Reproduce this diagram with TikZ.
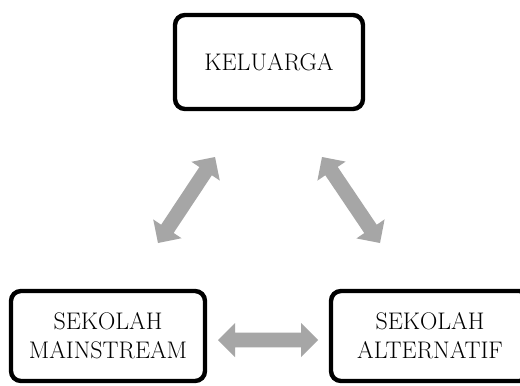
\documentclass[tikz,border=0pt]{standalone}
\usetikzlibrary{calc}
\definecolor{arrowgrey}{HTML}{A6A6A6}
\tikzset{
  box/.style={draw=black, line width=3.3pt, rounded corners=7.5pt, fill=white,
    align=center, inner sep=0pt, font=\fontsize{18}{21.5}\selectfont},
  blockarrow/.style={fill=arrowgrey, draw=none}
}
% double block arrow between two named tips
\newcommand\blockdarrow[2]{%
  \path[blockarrow]
    (#1)
    -- ($(#1)!12.75pt!(#2)!12.75pt!90:(#2)$)
    -- ($(#1)!12.75pt!(#2)!5.6pt!90:(#2)$)
    -- ($(#2)!12.75pt!(#1)!5.6pt!-90:(#1)$)
    -- ($(#2)!12.75pt!(#1)!12.75pt!-90:(#1)$)
    -- (#2)
    -- ($(#2)!12.75pt!(#1)!12.75pt!90:(#1)$)
    -- ($(#2)!12.75pt!(#1)!5.6pt!90:(#1)$)
    -- ($(#1)!12.75pt!(#2)!5.6pt!-90:(#2)$)
    -- ($(#1)!12.75pt!(#2)!12.75pt!-90:(#2)$)
    -- cycle;}
\begin{document}
\begin{tikzpicture}[x=0.75pt,y=-0.75pt]
\clip (0,0) rectangle (520,385);
\fill[white] (0,0) rectangle (520,385);
% boxes
\node[box, minimum width=141pt, minimum height=70.5pt] (kel) at (269,62) {KELUARGA};
\node[box, minimum width=145.5pt, minimum height=67.5pt] (main) at (108,336) {SEKOLAH\\MAINSTREAM};
\node[box, minimum width=148.5pt, minimum height=67.5pt] (alt) at (430,336) {SEKOLAH\\ALTERNATIF};
% arrow tips
\coordinate (la) at (215,157);
\coordinate (lb) at (158,243);
\coordinate (ra) at (322,157);
\coordinate (rb) at (380,243);
\coordinate (ha) at (218,340);
\coordinate (hb) at (318,340);
\blockdarrow{la}{lb}
\blockdarrow{ra}{rb}
\blockdarrow{ha}{hb}
\end{tikzpicture}
\end{document}
